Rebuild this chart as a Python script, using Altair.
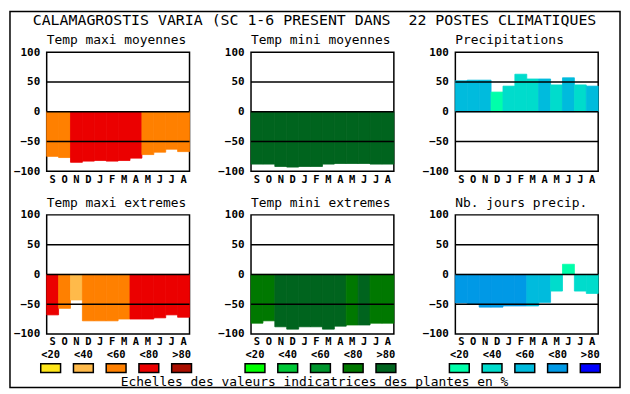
import altair as alt
import pandas as pd

# ---------------- data ----------------
main_title = "CALAMAGROSTIS VARIA (SC 1-6 PRESENT DANS\u00a0 22 POSTES CLIMATIQUES"
caption = "Echelles des valeurs indicatrices des plantes en %"

month_keys = ["Sept", "Oct", "Nov", "Dec", "Janv", "Fevr", "Mars", "Avr", "Mai", "Juin", "Juil", "Aout"]

titles = ["Temp maxi moyennes", "Temp mini moyennes", "Precipitations",
          "Temp maxi extremes", "Temp mini extremes", "Nb. jours precip."]

tmax_moy = [-75, -77, -85, -83, -82, -83, -82, -78, -72, -68, -63, -67]
tmax_moy_cls = [3, 3, 4, 4, 4, 4, 4, 4, 3, 3, 3, 3]

tmin_moy = [-88, -88, -92, -93, -92, -92, -88, -87, -87, -87, -88, -88]
tmin_moy_cls = [5, 5, 5, 5, 5, 5, 5, 5, 5, 5, 5, 5]

precip = [52, 53, 53, 33, 43, 63, 55, 55, 45, 57, 45, 43]
precip_cls = [3, 3, 3, 1, 2, 2, 2, 3, 2, 3, 2, 3]

tmax_ext = [-68, -57, -43, -78, -78, -78, -75, -75, -75, -73, -68, -72]
tmax_ext_cls = [4, 3, 2, 3, 3, 3, 3, 4, 4, 4, 4, 4]

tmin_ext = [-82, -78, -88, -92, -88, -88, -92, -87, -85, -85, -82, -82]
tmin_ext_cls = [4, 4, 5, 5, 5, 5, 5, 5, 4, 5, 4, 4]

jours = [-48, -50, -55, -55, -53, -53, -53, -47, -28, 17, -28, -32]
jours_cls = [4, 4, 4, 4, 4, 4, 3, 3, 2, 1, 2, 2]

classes = [1, 2, 3, 4, 5]
legend_labels = ["<20", "<40", "<60", "<80", ">80"]
y_ticks = [-100, -50, 0, 50, 100]
gridlines = [50, 0, -50]

pal_orange = ["#FFE619", "#FFBA4A", "#FF8000", "#EB0000", "#AA0E00"]
pal_green = ["#00FF00", "#00C837", "#00962D", "#007800", "#00641E"]
pal_blue = ["#00FFAA", "#00DCCC", "#00BBDD", "#0099E6", "#0000FF"]

FONT = "DejaVu Sans Mono"
W, H = 144, 120

YAXIS = alt.Axis(title=None, values=y_ticks, ticks=False, domain=False, grid=False,
                 labelPadding=7, labelOverlap=False, labelFont=FONT,
                 labelFontWeight="bold", labelFontSize=11, labelColor="black")
YSCALE = alt.Scale(domain=[-100, 100], nice=False, zero=False)


def panel(title, values, cls, palette, extras=()):
    df = pd.DataFrame({"mois": month_keys, "val": values, "cls": cls})
    cscale = alt.Scale(domain=classes, range=palette)
    color = alt.Color("cls:O", scale=cscale, legend=None)
    bars = alt.Chart(df).mark_rect(strokeWidth=0.8).encode(
        x=alt.X("mois:O", sort=month_keys,
                scale=alt.Scale(paddingInner=0, paddingOuter=0),
                axis=alt.Axis(title=None, labelAngle=0, ticks=False, domain=False,
                              labelPadding=3, labelExpr="substring(datum.label, 0, 1)",
                              labelFont=FONT, labelFontWeight="bold", labelFontSize=10.5,
                              labelColor="black")),
        y=alt.Y("val:Q", scale=YSCALE, stack=None, axis=YAXIS),
        y2=alt.datum(0),
        color=color,
        stroke=alt.Stroke("cls:O", scale=cscale, legend=None),
    )
    rules = alt.Chart(pd.DataFrame({"g": gridlines})).mark_rule(
        color="black", strokeWidth=1.5).encode(y=alt.Y("g:Q", scale=YSCALE, axis=YAXIS))
    ttl = alt.Chart(pd.DataFrame({"t": [title]})).mark_text(
        font=FONT, fontSize=13, color="black", align="left", baseline="alphabetic"
    ).encode(x=alt.value(0), y=alt.value(-8), text="t:N")
    layers = [bars, rules, ttl]
    for e in extras:
        layers.append(e(color))
    ch = alt.layer(*layers).properties(width=W, height=H)
    if any(getattr(e, "indep", False) for e in extras):
        ch = ch.resolve_scale(x="independent")
    return ch


def legend_layer(color):
    ldf = pd.DataFrame({"idx": list(range(5)), "cls": classes, "lab": legend_labels})
    xs = alt.Scale(domain=[0, 4], range=[4, 136])
    sw = alt.Chart(ldf).transform_calculate(
        x0="datum.idx - 0.303", x1="datum.idx + 0.303"
    ).mark_rect(stroke="black", strokeWidth=1.5).encode(
        x=alt.X("x0:Q", scale=xs, axis=None), x2="x1:Q",
        y=alt.value(150), y2=alt.value(159), color=color)
    lab = alt.Chart(ldf).mark_text(font=FONT, fontWeight="bold", fontSize=10.5,
                                   color="black", baseline="middle").encode(
        x=alt.X("idx:Q", scale=xs, axis=None), y=alt.value(141), text="lab:N")
    return alt.layer(sw, lab)


legend_layer.indep = True


def frame_layer(color):
    d = pd.DataFrame({"t": [main_title]})
    fr = alt.Chart(d).mark_rect(fillOpacity=0, stroke="black", strokeWidth=1.5).encode(
        x=alt.value(-37), x2=alt.value(578), y=alt.value(-41), y2=alt.value(338))
    tt = alt.Chart(d).mark_text(font=FONT, fontSize=15, color="black",
                                baseline="middle", align="center").encode(
        x=alt.value(270), y=alt.value(-32), text="t:N")
    return alt.layer(fr, tt)


def caption_layer(color):
    d = pd.DataFrame({"t": [caption]})
    return alt.Chart(d).mark_text(font=FONT, fontSize=13, color="black",
                                  baseline="middle", align="center").encode(
        x=alt.value(64), y=alt.value(169), text="t:N")


p1 = panel(titles[0], tmax_moy, tmax_moy_cls, pal_orange, [frame_layer])
p2 = panel(titles[1], tmin_moy, tmin_moy_cls, pal_green)
p3 = panel(titles[2], precip, precip_cls, pal_blue)
p4 = panel(titles[3], tmax_ext, tmax_ext_cls, pal_orange, [legend_layer])
p5 = panel(titles[4], tmin_ext, tmin_ext_cls, pal_green, [legend_layer, caption_layer])
p6 = panel(titles[5], jours, jours_cls, pal_blue, [legend_layer])

chart = alt.concat(
    p1, p2, p3, p4, p5, p6,
    columns=3, spacing={"row": 44, "column": 62}, bounds="flush",
).resolve_scale(color="independent", stroke="independent").properties(
    padding=0, background="white"
).configure_view(stroke="black", strokeWidth=1.5)

chart.save("out.html", embed_options={"renderer": "svg", "actions": False})
